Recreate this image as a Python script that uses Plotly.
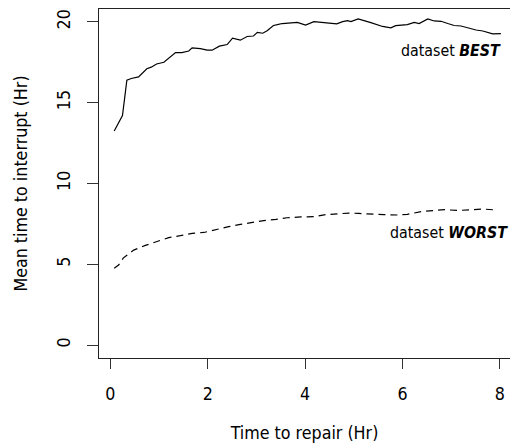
import plotly.graph_objects as go

best_x = [0.08, 0.17, 0.25, 0.34, 0.43, 0.58, 0.75, 0.84, 0.95, 1.10, 1.20, 1.34, 1.47, 1.61,
          1.68, 1.85, 1.99, 2.09, 2.24, 2.40, 2.51, 2.67, 2.81, 2.94, 3.02, 3.13, 3.22, 3.35,
          3.43, 3.53, 3.84, 4.01, 4.18, 4.42, 4.65, 4.77, 4.87, 4.94, 5.09, 5.35, 5.59, 5.76,
          5.86, 6.10, 6.24, 6.34, 6.52, 6.65, 6.79, 6.93, 7.06, 7.20, 7.34, 7.51, 7.65, 7.85, 8.02]
best_y = [13.25, 13.8, 14.2, 16.4, 16.5, 16.6, 17.1, 17.2, 17.4, 17.5, 17.75, 18.1, 18.1, 18.2,
          18.4, 18.35, 18.25, 18.25, 18.5, 18.6, 19.0, 18.87, 19.1, 19.13, 19.35, 19.3, 19.46, 19.78,
          19.83, 19.9, 19.97, 19.8, 20.02, 19.96, 19.88, 20.02, 20.08, 20.02, 20.19, 19.96, 19.72, 19.63,
          19.77, 19.83, 19.97, 19.9, 20.19, 20.06, 20.04, 19.9, 19.78, 19.75, 19.63, 19.5, 19.44, 19.26, 19.28]

worst_x = [0.08, 0.17, 0.27, 0.48, 0.72, 0.96, 1.20, 1.44, 1.68, 1.92, 2.16, 2.43, 2.67, 2.91,
           3.15, 3.40, 3.63, 3.91, 4.18, 4.42, 4.66, 4.90, 5.10, 5.38, 5.62, 5.90, 6.10, 6.38,
           6.62, 6.86, 7.13, 7.37, 7.65, 7.92]
worst_y = [4.75, 4.95, 5.4, 5.88, 6.17, 6.41, 6.65, 6.77, 6.91, 6.97, 7.16, 7.33, 7.47, 7.6,
           7.7, 7.78, 7.88, 7.93, 7.95, 8.07, 8.13, 8.17, 8.15, 8.09, 8.07, 8.05, 8.09, 8.26,
           8.33, 8.38, 8.33, 8.38, 8.42, 8.36]

x_ticks = [0, 2, 4, 6, 8]
y_ticks = [0, 5, 10, 15, 20]

labels = [("dataset <b><i>BEST</i></b>", 7.0, 18.23),
          ("dataset <b><i>WORST</i></b>", 6.95, 6.94)]

FAM = "DejaVu Sans Condensed, DejaVu Sans, sans-serif"
TITLE_FONT = dict(family=FAM, size=17.7, color="black")
TICK_FONT = dict(family=FAM, size=17.7, color="black")

fig = go.Figure()
fig.add_trace(go.Scatter(x=best_x, y=best_y, mode="lines",
                         line=dict(color="black", width=1.2), showlegend=False))
fig.add_trace(go.Scatter(x=worst_x, y=worst_y, mode="lines",
                         line=dict(color="black", width=1.2, dash="7px,5px"), showlegend=False))

for txt, lx, ly in labels:
    fig.add_annotation(x=lx, y=ly, text=txt, showarrow=False, xanchor="center", yanchor="middle",
                       font=dict(family=FAM, size=15.8, color="black"))

fig.update_layout(
    width=510, height=447,
    margin=dict(l=99, r=0, t=9, b=89),
    paper_bgcolor="white", plot_bgcolor="white",
    font=dict(family=FAM, size=17, color="black"),
    xaxis=dict(range=[-0.232, 8.207], tickvals=x_ticks, ticks="outside", ticklen=10,
               tickcolor="#333", showline=True, linecolor="#222", linewidth=1, mirror=True,
               showgrid=False, zeroline=False, ticklabelstandoff=10, tickfont=TICK_FONT,
               title=dict(text="Time to repair (Hr)", standoff=23, font=TITLE_FONT)),
    yaxis=dict(range=[-0.8, 20.8], tickvals=y_ticks, ticks="outside", ticklen=11,
               tickcolor="#333", showline=True, linecolor="#222", linewidth=1, mirror=False,
               showgrid=False, zeroline=False, tickangle=-90, ticklabelstandoff=10, tickfont=TICK_FONT,
               title=dict(text="Mean time to interrupt (Hr)", standoff=21, font=TITLE_FONT)),
)

fig.write_html("out.html", config={"displayModeBar": False},
               post_script="document.body.style.margin='0px';document.body.style.overflow='hidden';")
